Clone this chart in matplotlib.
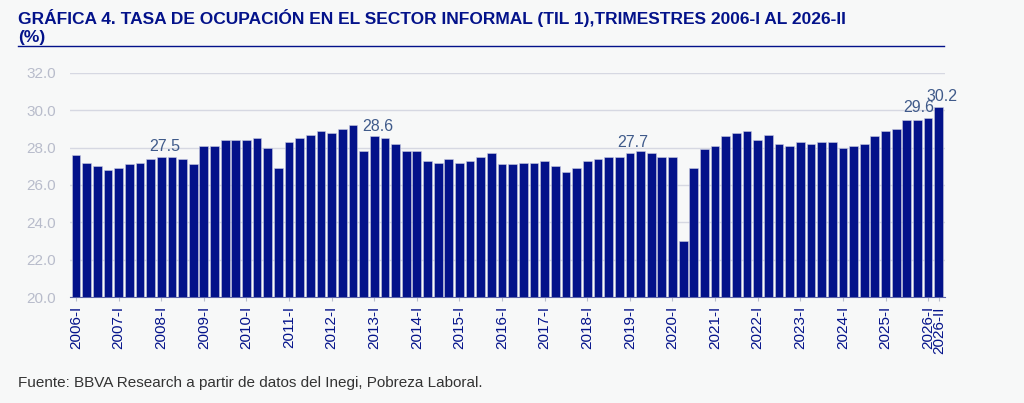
import matplotlib.pyplot as plt
import numpy as np

plt.rcParams['font.family'] = ['Liberation Sans', 'DejaVu Sans']

values = [27.6, 27.2, 27.0, 26.8, 26.9, 27.1, 27.2, 27.4,
          27.5, 27.5, 27.4, 27.1, 28.1, 28.1, 28.4, 28.4,
          28.4, 28.5, 28.0, 26.9, 28.3, 28.5, 28.7, 28.9,
          28.8, 29.0, 29.2, 27.8, 28.6, 28.5, 28.2, 27.8,
          27.8, 27.3, 27.2, 27.4, 27.2, 27.3, 27.5, 27.7,
          27.1, 27.1, 27.2, 27.2, 27.3, 27.0, 26.7, 26.9,
          27.3, 27.4, 27.5, 27.5, 27.7, 27.8, 27.7, 27.5,
          27.5, 23.0, 26.9, 27.9, 28.1, 28.6, 28.8, 28.9,
          28.4, 28.7, 28.2, 28.1, 28.3, 28.2, 28.3, 28.3,
          28.0, 28.1, 28.2, 28.6, 28.9, 29.0, 29.5, 29.5,
          29.6, 30.2]
roman = ['I', 'II', 'III', 'IV']
periods = [f'{2006 + i // 4}-{roman[i % 4]}' for i in range(len(values))]
labeled = {8: '27.5', 28: '28.6', 52: '27.7', 80: '29.6', 81: '30.2'}

navy = '#03128a'
bg = '#f7f8f8'
fig = plt.figure(figsize=(10.24, 4.03), dpi=100, facecolor=bg)
ax = fig.add_axes([0.068, 0.263, 0.855, 0.556], facecolor=bg)

x = np.arange(len(values))
ax.bar(x, np.array(values) - 20, bottom=20, width=0.82, color=navy,
       edgecolor='#c9cbe0', linewidth=0.4, zorder=3)
for i, t in labeled.items():
    dx = -0.9 if i == 80 else 0.3
    ax.text(i + dx, values[i] + 0.15, t, ha='center', va='bottom',
            fontsize=11.5, color='#3f5a8a', zorder=4)

ax.set_ylim(20, 32)
ax.set_xlim(-0.6, len(values) - 0.4)
ax.set_yticks(np.arange(20, 32.1, 2))
ax.set_yticklabels([f'{v:.1f}' for v in np.arange(20, 32.1, 2)],
                   color='#b8bccb', fontsize=11)
ax.grid(axis='y', color='#d6d8e2', linewidth=1, zorder=0)
ticks = list(range(0, len(values), 4)) + [len(values) - 1]
ax.set_xticks(ticks)
ax.set_xticklabels([periods[i] for i in ticks], rotation=90,
                   color=navy, fontsize=11)
ax.tick_params(axis='y', length=0, pad=10)
ax.tick_params(axis='x', length=3, color='#b8bccb')
for s in ['top', 'right', 'left']:
    ax.spines[s].set_visible(False)
ax.spines['bottom'].set_color('#5a62a8')

fig.text(0.018, 0.955, 'GRÁFICA 4. TASA DE OCUPACIÓN EN EL SECTOR INFORMAL (TIL 1),TRIMESTRES 2006-I AL 2026-II',
         fontsize=12.5, fontweight='bold', color=navy, va='center')
fig.text(0.018, 0.907, '(%)', fontsize=12.5, fontweight='bold', color=navy, va='center')
fig.add_artist(plt.Line2D([0.018, 0.922], [0.885, 0.885], color=navy, linewidth=1))
fig.text(0.018, 0.05, 'Fuente: BBVA Research a partir de datos del Inegi, Pobreza Laboral.',
         fontsize=11, color='#333333', va='center')

fig.savefig('out.png', dpi=100, facecolor=bg)
